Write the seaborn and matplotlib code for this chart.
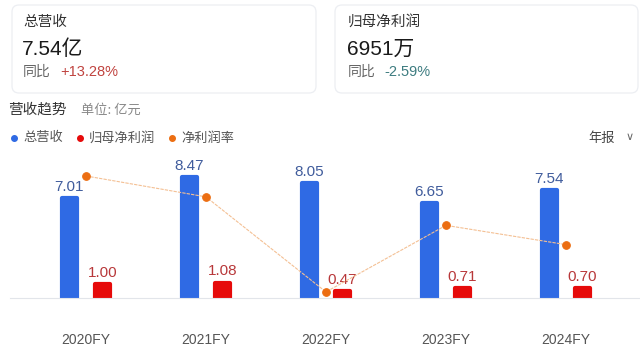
import matplotlib
matplotlib.use("Agg")
import numpy as np
import pandas as pd
import matplotlib.pyplot as plt
import seaborn as sns
from matplotlib.patches import FancyBboxPatch
from matplotlib.lines import Line2D

# --- data ---
years = ["2020FY", "2021FY", "2022FY", "2023FY", "2024FY"]
revenue = [7.01, 8.47, 8.05, 6.65, 7.54]        # 总营收 (亿元)
net_profit = [1.00, 1.08, 0.47, 0.71, 0.70]     # 归母净利润 (亿元)
margin = [14.27, 12.75, 5.84, 10.68, 9.28]      # 净利润率 (%)
series_names = ["总营收", "归母净利润", "净利润率"]

BLUE = "#2f6ae4"
RED = "#e60a0a"
ORANGE = "#ec6e12"
LINE_ORANGE = "#f4c094"
NUM_FONT = ["Liberation Sans", "Noto Sans CJK SC", "DejaVu Sans"]

sns.set_theme(style="white")
plt.rcParams['font.family'] = ['Noto Sans CJK SC', 'DejaVu Sans']

W, H = 640, 360
fig = plt.figure(figsize=(6.4, 3.6), dpi=100)
fig.patch.set_facecolor("white")


def fx(x):
    return x / W


def fy(y):
    return 1 - y / H


# --- summary cards ---
for x0, x1 in [(12, 316), (335, 638)]:
    card = FancyBboxPatch((x0 / 100, (H - 93) / 100), (x1 - x0) / 100, 0.88,
                          boxstyle="round,pad=0,rounding_size=0.07",
                          transform=fig.dpi_scale_trans, facecolor="white",
                          edgecolor="#eceef2", linewidth=0.9)
    fig.add_artist(card)

fig.text(fx(23), fy(22), "总营收", fontsize=10.5, color="#333333", va="center")
fig.text(fx(22), fy(49), "7.54亿", fontsize=15, color="#1a1a1a", va="center",
         family=NUM_FONT)
fig.text(fx(23), fy(72), "同比", fontsize=10, color="#666666", va="center")
fig.text(fx(60), fy(72), "+13.28%", fontsize=10.5, color="#c0433f", va="center",
         family=NUM_FONT)

fig.text(fx(348), fy(22), "归母净利润", fontsize=10.5, color="#333333", va="center")
fig.text(fx(347), fy(49), "6951万", fontsize=15, color="#1a1a1a", va="center",
         family=NUM_FONT)
fig.text(fx(348), fy(72), "同比", fontsize=10, color="#666666", va="center")
fig.text(fx(384), fy(72), "-2.59%", fontsize=10.5, color="#3d7c80", va="center",
         family=NUM_FONT)

# --- section header and legend ---
fig.text(fx(8), fy(110), "营收趋势", fontsize=10.5, color="#333333", va="center")
fig.text(fx(81), fy(110), "单位: 亿元", fontsize=9.5, color="#888888", va="center")

legend_items = [(14, BLUE, series_names[0]), (80, RED, series_names[1]),
                (172, ORANGE, series_names[2])]
for x, c, name in legend_items:
    fig.add_artist(Line2D([fx(x)], [fy(138)], marker="o", markersize=4,
                          color=c, linestyle="none", transform=fig.transFigure))
    fig.text(fx(x + 9), fy(138), name, fontsize=9.5, color="#555555", va="center")

fig.text(fx(588), fy(138), "年报", fontsize=9.5, color="#444444", va="center")
fig.text(fx(626), fy(137), "∨", fontsize=8, color="#666666", va="center",
         family=["DejaVu Sans"])

# --- chart ---
ax = fig.add_axes([fx(10), fy(298), 630 / W, 138 / H])
df = pd.DataFrame({
    "year": years * 2,
    "value": revenue + net_profit,
    "series": [series_names[0]] * len(years) + [series_names[1]] * len(years),
})
sns.barplot(data=df, x="year", y="value", hue="series", palette=[BLUE, RED],
            width=0.55, gap=0.52, ax=ax, legend=False, saturation=1)

for p in ax.patches:
    p.set_edgecolor(p.get_facecolor())
    p.set_linewidth(3)
    p.set_joinstyle("round")

label_colors = ["#405c9c", "#b8383a"]
for cont, lc in zip(ax.containers, label_colors):
    ax.bar_label(cont, fmt="%.2f", padding=3, color=lc, fontsize=11,
                 family=NUM_FONT)

ax.set_xlim(-0.633, 4.617)
ax.set_ylim(0, 9.65)
ax.set_xlabel("")
ax.set_ylabel("")
ax.set_yticks([])
ax.tick_params(axis="x", length=0, pad=25, labelsize=10, labelcolor="#555555")
for lab in ax.get_xticklabels():
    lab.set_family(NUM_FONT)
for s in ["top", "left", "right"]:
    ax.spines[s].set_visible(False)
ax.spines["bottom"].set_color("#e2e5ea")
ax.spines["bottom"].set_linewidth(0.8)
ax.patch.set_alpha(0)

ax2 = ax.twinx()
sns.lineplot(x=np.arange(len(years)), y=margin, ax=ax2, color=LINE_ORANGE,
             linewidth=0.8, linestyle=(0, (3, 1)), marker="o", markersize=5.5,
             markerfacecolor=ORANGE, markeredgecolor=ORANGE, sort=False)
ax2.set_ylim(5.4, 15.43)
ax2.set_yticks([])
ax2.set_ylabel("")
for s in ["top", "left", "right", "bottom"]:
    ax2.spines[s].set_visible(False)

fig.savefig("out.png", dpi=100, facecolor=fig.get_facecolor())
